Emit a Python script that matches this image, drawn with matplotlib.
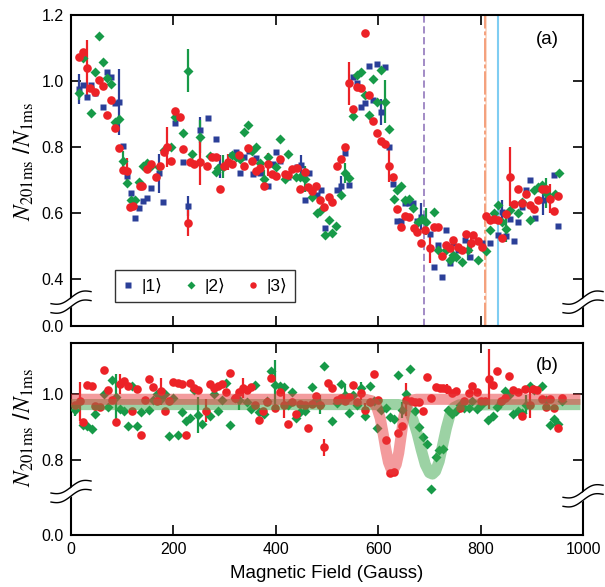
import numpy as np
import matplotlib
matplotlib.use("Agg")
import matplotlib.pyplot as plt

plt.rcParams['font.family'] = ['Liberation Sans', 'DejaVu Sans']
plt.rcParams['mathtext.fontset'] = 'stix'

# === panel (a) data ===
a1_x = [16, 23, 31, 39, 47, 62, 70, 78, 86, 94, 101, 109, 117, 125, 133, 141, 148, 156, 172, 180,
        203, 219, 228, 251, 267, 283, 290, 314, 322, 330, 338, 348, 355, 361, 369, 385, 395, 400,
        408, 424, 441, 449, 457, 465, 480, 488, 496, 519, 527, 535, 542, 550, 558, 566, 574, 581,
        589, 597, 605, 613, 621, 629, 637, 645, 652, 660, 668, 676, 684, 701, 708, 716, 724, 732,
        740, 747, 756, 770, 779, 802, 818, 833, 842, 850, 858, 865, 873, 881, 889, 896, 906, 922,
        944, 952]
a1_y = [0.975, 0.988, 0.953, 0.988, 0.963, 0.920, 1.026, 1.013, 0.932, 0.937, 0.804, 0.713, 0.660,
        0.586, 0.614, 0.636, 0.646, 0.677, 0.720, 0.634, 0.872, 0.754, 0.621, 0.852, 0.889, 0.823,
        0.740, 0.776, 0.785, 0.720, 0.770, 0.789, 0.718, 0.768, 0.720, 0.683, 0.750, 0.786, 0.758,
        0.710, 0.740, 0.745, 0.639, 0.720, 0.655, 0.670, 0.555, 0.670, 0.683, 0.783, 0.685, 1.011,
        0.993, 0.922, 0.932, 1.046, 0.942, 1.052, 0.907, 1.043, 0.801, 0.687, 0.577, 0.577, 0.629,
        0.629, 0.629, 0.577, 0.589, 0.535, 0.437, 0.503, 0.407, 0.548, 0.448, 0.510, 0.488, 0.518,
        0.468, 0.510, 0.510, 0.533, 0.604, 0.530, 0.581, 0.516, 0.574, 0.619, 0.670, 0.700, 0.586,
        0.639, 0.715, 0.561]

a2_x = [15, 23, 39, 47, 54, 63, 70, 78, 86, 94, 101, 109, 117, 125, 133, 141, 148, 156, 172, 181,
        196, 204, 219, 228, 236, 252, 271, 283, 288, 297, 315, 322, 330, 337, 345, 353, 361, 369,
        377, 385, 400, 409, 417, 424, 439, 448, 456, 471, 480, 486, 496, 503, 510, 518, 527, 535,
        542, 550, 558, 566, 574, 581, 589, 597, 605, 613, 621, 630, 637, 645, 652, 660, 668, 677,
        685, 693, 708, 716, 732, 740, 747, 752, 763, 776, 794, 810, 818, 826, 834, 842, 850, 858,
        873, 881, 896, 905, 913, 920, 928, 945, 953]
a2_y = [0.963, 1.069, 0.904, 1.028, 1.136, 1.059, 1.008, 0.991, 0.875, 0.885, 0.759, 0.690, 0.640,
        0.640, 0.693, 0.743, 0.753, 0.743, 0.740, 0.790, 0.800, 0.892, 0.841, 1.031, 0.779, 0.831,
        0.773, 0.725, 0.735, 0.740, 0.776, 0.770, 0.763, 0.845, 0.866, 0.788, 0.799, 0.751, 0.704,
        0.770, 0.740, 0.823, 0.704, 0.779, 0.710, 0.710, 0.704, 0.649, 0.599, 0.607, 0.533, 0.579,
        0.538, 0.562, 0.655, 0.722, 0.707, 0.894, 1.018, 1.028, 0.958, 0.897, 1.006, 0.937, 1.033,
        0.937, 0.854, 0.644, 0.670, 0.683, 0.639, 0.642, 0.614, 0.574, 0.581, 0.574, 0.602, 0.488,
        0.488, 0.458, 0.473, 0.468, 0.452, 0.488, 0.458, 0.485, 0.548, 0.599, 0.623, 0.574, 0.551,
        0.609, 0.601, 0.634, 0.579, 0.670, 0.680, 0.685, 0.660, 0.658, 0.720]

a3_x = [16, 23, 31, 37, 47, 54, 62, 70, 78, 86, 93, 101, 109, 116, 122, 134, 139, 148, 156, 165,
        173, 181, 188, 196, 204, 212, 219, 228, 233, 241, 252, 266, 275, 284, 290, 298, 307, 314,
        329, 337, 345, 353, 361, 369, 377, 385, 393, 401, 409, 417, 424, 432, 441, 448, 456, 463,
        471, 479, 487, 495, 503, 510, 519, 527, 535, 542, 550, 558, 566, 574, 581, 590, 598, 605,
        613, 622, 629, 637, 645, 652, 660, 669, 676, 684, 692, 701, 708, 716, 724, 732, 740, 747,
        755, 763, 771, 781, 786, 794, 802, 810, 818, 826, 833, 841, 850, 858, 865, 873, 881, 889,
        896, 904, 913, 920, 928, 936, 944, 952]
a3_y = [1.072, 1.089, 1.038, 0.978, 0.968, 1.003, 0.985, 0.897, 0.944, 0.857, 0.798, 0.730, 0.727,
        0.619, 0.622, 0.683, 0.683, 0.733, 0.750, 0.710, 0.743, 0.786, 0.800, 0.759, 0.909, 0.890,
        0.794, 0.569, 0.754, 0.750, 0.754, 0.743, 0.769, 0.769, 0.674, 0.743, 0.755, 0.748, 0.777,
        0.742, 0.798, 0.758, 0.728, 0.736, 0.683, 0.748, 0.717, 0.713, 0.764, 0.717, 0.714, 0.733,
        0.737, 0.674, 0.724, 0.680, 0.668, 0.682, 0.638, 0.617, 0.649, 0.634, 0.742, 0.763, 0.800,
        0.993, 0.914, 0.983, 0.978, 1.145, 0.958, 0.879, 0.843, 0.819, 0.809, 0.743, 0.708, 0.611,
        0.559, 0.592, 0.589, 0.554, 0.541, 0.508, 0.548, 0.495, 0.559, 0.559, 0.470, 0.503, 0.493,
        0.518, 0.498, 0.488, 0.536, 0.510, 0.533, 0.516, 0.498, 0.592, 0.579, 0.582, 0.579, 0.523,
        0.597, 0.710, 0.626, 0.673, 0.629, 0.658, 0.623, 0.612, 0.639, 0.673, 0.673, 0.644, 0.606,
        0.652]

# error bars (x, y, half-length)
a1_err = [(16, 0.975, 0.045), (94, 0.937, 0.10), (172, 0.720, 0.06), (228, 0.621, 0.03),
          (251, 0.852, 0.04), (290, 0.740, 0.035), (449, 0.745, 0.03), (527, 0.683, 0.03),
          (605, 0.907, 0.04), (684, 0.589, 0.04), (842, 0.604, 0.035), (922, 0.639, 0.045)]
a2_err = [(15, 0.963, 0.02), (101, 0.759, 0.03), (228, 1.031, 0.065), (252, 0.831, 0.05),
          (297, 0.740, 0.035), (377, 0.704, 0.025), (456, 0.704, 0.04), (535, 0.722, 0.03),
          (613, 0.937, 0.065), (693, 0.574, 0.04), (776, 0.488, 0.03), (850, 0.551, 0.04),
          (928, 0.660, 0.045)]
a3_err = [(31, 1.038, 0.085), (109, 0.727, 0.04), (188, 0.800, 0.06), (228, 0.569, 0.04),
          (252, 0.754, 0.07), (307, 0.755, 0.025), (385, 0.748, 0.035), (542, 0.993, 0.065),
          (622, 0.743, 0.05), (701, 0.495, 0.045), (781, 0.510, 0.03), (858, 0.710, 0.09),
          (936, 0.644, 0.045)]

# marker lines in panel (a)
line_purple = 689
line_orange = 808
line_blue = 834

# === panel (b) data ===
b2_x = [7, 23, 31, 40, 47, 64, 72, 80, 88, 96, 103, 111, 120, 128, 136, 152, 160, 167, 175, 184,
        191, 200, 208, 216, 224, 232, 240, 248, 256, 272, 279, 287, 295, 303, 311, 320, 328, 344,
        352, 360, 368, 376, 383, 391, 399, 408, 415, 424, 432, 439, 448, 456, 471, 479, 487, 495,
        510, 519, 527, 535, 543, 551, 559, 567, 575, 583, 591, 598, 606, 615, 623, 631, 638, 647,
        655, 663, 671, 680, 687, 695, 703, 712, 719, 727, 736, 744, 752, 760, 768, 777, 784, 792,
        800, 815, 824, 831, 840, 848, 855, 864, 872, 880, 888, 896, 904, 919, 927, 935, 943, 951, 958]
b2_y = [0.952, 0.906, 0.901, 0.893, 0.938, 0.999, 0.960, 1.042, 0.990, 0.954, 0.946, 0.901, 1.022,
        0.902, 0.943, 0.952, 0.982, 1.000, 0.985, 1.000, 0.871, 0.987, 0.876, 0.943, 0.916, 0.926,
        1.012, 0.936, 0.908, 0.933, 0.999, 0.946, 0.982, 1.034, 0.906, 0.987, 0.982, 0.975, 0.954,
        1.025, 0.943, 0.938, 0.979, 1.070, 1.027, 1.022, 1.019, 0.967, 1.004, 0.926, 0.943, 0.948,
        1.019, 0.981, 0.967, 1.085, 0.916, 0.971, 1.029, 0.995, 0.941, 0.997, 0.967, 1.017, 0.933,
        1.022, 0.977, 0.896, 0.952, 0.957, 0.930, 0.922, 1.058, 0.950, 1.000, 1.076, 0.947, 0.899,
        0.869, 0.846, 0.712, 0.807, 0.830, 0.832, 0.952, 0.937, 0.948, 0.967, 0.957, 0.957, 0.979,
        0.954, 0.965, 0.921, 0.933, 0.960, 0.975, 1.009, 0.997, 0.939, 0.947, 0.941, 0.967, 1.024,
        1.012, 1.022, 0.982, 0.905, 0.923, 0.909, 0.977]

b3_x = [7, 17, 23, 31, 40, 47, 56, 64, 72, 80, 88, 96, 103, 111, 120, 128, 136, 144, 152, 160,
        167, 175, 184, 191, 200, 208, 216, 224, 232, 240, 248, 263, 271, 279, 287, 295, 303, 311,
        320, 328, 336, 344, 352, 360, 367, 375, 383, 391, 399, 408, 415, 424, 432, 440, 448, 456,
        463, 471, 479, 487, 495, 502, 510, 519, 527, 535, 543, 551, 559, 567, 575, 583, 591, 600,
        615, 623, 631, 639, 647, 655, 664, 672, 680, 688, 696, 704, 712, 720, 727, 735, 744, 752,
        760, 768, 777, 784, 792, 800, 808, 816, 824, 832, 840, 848, 855, 863, 872, 880, 887, 896,
        903, 911, 919, 927, 935, 943, 951, 959]
b3_y = [0.965, 0.977, 0.913, 1.027, 1.024, 0.964, 0.960, 1.073, 1.012, 0.982, 0.914, 1.029, 1.040,
        1.024, 0.948, 1.014, 0.876, 0.982, 1.045, 1.019, 0.977, 1.007, 0.948, 0.977, 1.037, 1.034,
        1.030, 0.876, 1.034, 1.017, 1.010, 0.948, 1.029, 1.017, 1.022, 1.029, 1.005, 1.063, 0.987,
        1.005, 1.017, 1.010, 1.019, 0.965, 0.921, 0.948, 0.975, 1.049, 0.957, 1.004, 0.965, 0.909,
        0.976, 0.939, 0.970, 0.967, 0.896, 0.970, 0.994, 0.965, 0.837, 1.032, 1.017, 0.982, 0.987,
        0.977, 0.990, 1.027, 0.975, 1.002, 0.952, 0.975, 1.060, 0.982, 0.858, 0.760, 0.762, 0.881,
        0.901, 0.982, 0.979, 0.974, 0.975, 0.948, 1.052, 0.987, 1.020, 1.017, 1.017, 1.015, 1.002,
        1.007, 0.957, 0.979, 1.002, 1.024, 1.005, 0.977, 0.979, 1.045, 1.027, 1.070, 0.977, 0.987,
        1.053, 1.012, 1.005, 0.933, 1.015, 0.967, 1.015, 1.012, 0.985, 0.961, 0.985, 0.957, 0.896,
        0.987]

b2_err = [(7, 0.952, 0.02), (88, 0.990, 0.07), (248, 0.936, 0.055), (328, 0.982, 0.03),
          (399, 1.027, 0.075), (487, 0.967, 0.03), (535, 0.995, 0.03), (567, 1.017, 0.02),
          (647, 0.950, 0.025), (888, 0.967, 0.03)]
b3_err = [(17, 0.977, 0.06), (96, 1.029, 0.03), (175, 1.007, 0.04), (263, 0.948, 0.035),
          (336, 1.017, 0.03), (415, 0.965, 0.04), (495, 0.837, 0.025), (567, 1.002, 0.02),
          (575, 0.952, 0.02), (655, 0.982, 0.05), (735, 1.015, 0.015), (816, 1.045, 0.09),
          (896, 0.967, 0.04)]

# fitted curves
fit2_x = [0, 640, 652, 660, 668, 676, 684, 692, 700, 706, 712, 719, 726, 733, 740, 748, 758, 995]
fit2_y = [0.967, 0.967, 0.962, 0.948, 0.920, 0.880, 0.830, 0.785, 0.760, 0.756, 0.765, 0.795,
          0.845, 0.895, 0.935, 0.958, 0.966, 0.967]
fit3_x = [0, 575, 588, 597, 604, 610, 615, 620, 625, 630, 635, 640, 645, 650, 656, 663, 675, 995]
fit3_y = [0.983, 0.983, 0.978, 0.960, 0.925, 0.875, 0.830, 0.792, 0.772, 0.770, 0.785, 0.820,
          0.875, 0.930, 0.965, 0.980, 0.983, 0.983]

c1, c2, c3 = '#2b3f98', '#179a48', '#ec2227'

W, H = 6.05, 5.87
fig = plt.figure(figsize=(W, H), dpi=100)
ax1 = fig.add_axes([0.1174, 0.4446, 0.8463, 0.5298])
ax2 = fig.add_axes([0.1174, 0.0886, 0.8463, 0.3271])


def errs(ax, pts, color):
    ex = [p[0] for p in pts]
    ey = [p[1] for p in pts]
    ee = [p[2] for p in pts]
    ax.errorbar(ex, ey, yerr=ee, fmt='none', ecolor=color, elinewidth=1.6, capsize=0, zorder=2.5)


def break_mark(ax, xa, ya):
    pos = ax.get_position()
    wpx = pos.width * W * 100
    hpx = pos.height * H * 100
    t = np.linspace(-20, 20, 80)
    base = 0.3 * t + 3.0 * np.sin(np.pi * t / 20.0)
    xs = xa + t / wpx
    up = ya + (base + 4.5) / hpx
    lo = ya + (base - 4.5) / hpx
    ax.fill_between(xs, lo, up, color='white', transform=ax.transAxes, clip_on=False, zorder=6,
                    linewidth=0)
    ax.plot(xs, up, color='black', lw=1.0, transform=ax.transAxes, clip_on=False, zorder=7)
    ax.plot(xs, lo, color='black', lw=1.0, transform=ax.transAxes, clip_on=False, zorder=7)


# --- panel (a) ---
ax1.axvline(line_purple, color='#9b82c2', lw=1.3, ls=(0, (4, 2)), zorder=1)
ax1.axvline(line_orange + 2, color='#fbd3bf', lw=1.2, zorder=1)
ax1.axvline(line_orange, color='#f4a07c', lw=1.4, ls=(0, (12, 1.5, 2, 1.5)), zorder=1)
ax1.axvline(line_blue, color='#7fcdf2', lw=1.5, zorder=1)

errs(ax1, a1_err, c1)
errs(ax1, a2_err, c2)
errs(ax1, a3_err, c3)
ax1.plot(a1_x, a1_y, 's', color=c1, ms=5, mec='none', label='|1⟩', zorder=3)
ax1.plot(a2_x, a2_y, 'D', color=c2, ms=5, mec='none', label='|2⟩', zorder=3)
ax1.plot(a3_x, a3_y, 'o', color=c3, ms=6.2, mec='none', label='|3⟩', zorder=3)

ax1.set_xlim(0, 1000)
ax1.set_ylim(0.2576, 1.2)
ax1.set_yticks([0.2576, 0.4, 0.6, 0.8, 1.0, 1.2])
ax1.set_yticklabels(['0.0', '0.4', '0.6', '0.8', '1.0', '1.2'])
ax1.set_xticks([0, 200, 400, 600, 800, 1000])
ax1.tick_params(labelbottom=False)
ax1.text(0.93, 0.92, '(a)', transform=ax1.transAxes, fontsize=13.5, ha='center', va='center')
leg = ax1.legend(loc='lower left', bbox_to_anchor=(0.086, 0.077), ncol=3, fontsize=12.5,
                 frameon=True, fancybox=False, edgecolor='black', borderaxespad=0,
                 handlelength=0.6, handletextpad=0.5, columnspacing=1.3, markerscale=0.75,
                 borderpad=0.45)
leg.get_frame().set_linewidth(1.0)

# --- panel (b) ---
errs(ax2, b2_err, c2)
errs(ax2, b3_err, c3)
ax2.plot(b2_x, b2_y, 'D', color=c2, ms=5, mec='none', zorder=3)
ax2.plot(b3_x, b3_y, 'o', color=c3, ms=6.2, mec='none', zorder=3)
ax2.plot(fit2_x, fit2_y, color='#3aa64a', alpha=0.5, lw=8, solid_capstyle='butt', zorder=4)
ax2.plot(fit3_x, fit3_y, color='#e8383c', alpha=0.5, lw=8, solid_capstyle='butt', zorder=4.1)

ax2.set_xlim(0, 1000)
ax2.set_ylim(0.571, 1.154)
ax2.set_yticks([0.571, 0.8, 1.0])
ax2.set_yticklabels(['0.0', '0.8', '1.0'])
ax2.set_xticks([0, 200, 400, 600, 800, 1000])
ax2.text(0.93, 0.885, '(b)', transform=ax2.transAxes, fontsize=13.5, ha='center', va='center')
ax2.set_xlabel('Magnetic Field (Gauss)', fontsize=13.5, labelpad=6)

ylab = r'$N_{201\mathrm{ms}}$ /$N_{1\mathrm{ms}}$'
for ax, yc in [(ax1, 0.53), (ax2, 0.56)]:
    for s in ax.spines.values():
        s.set_linewidth(1.5)
    ax.tick_params(direction='in', length=7.5, width=1.2, top=True, right=True,
                   labelsize=11.5, pad=5)
    ax.set_ylabel(ylab, fontsize=17)
    ax.yaxis.set_label_coords(-0.068, yc)

break_mark(ax1, 0.0, (0.33 - 0.2576) / (1.2 - 0.2576))
break_mark(ax1, 1.0, (0.33 - 0.2576) / (1.2 - 0.2576))
break_mark(ax2, 0.0, (0.703 - 0.571) / (1.154 - 0.571))
break_mark(ax2, 1.0, (0.69 - 0.571) / (1.154 - 0.571))

fig.savefig('out.png', dpi=100)
